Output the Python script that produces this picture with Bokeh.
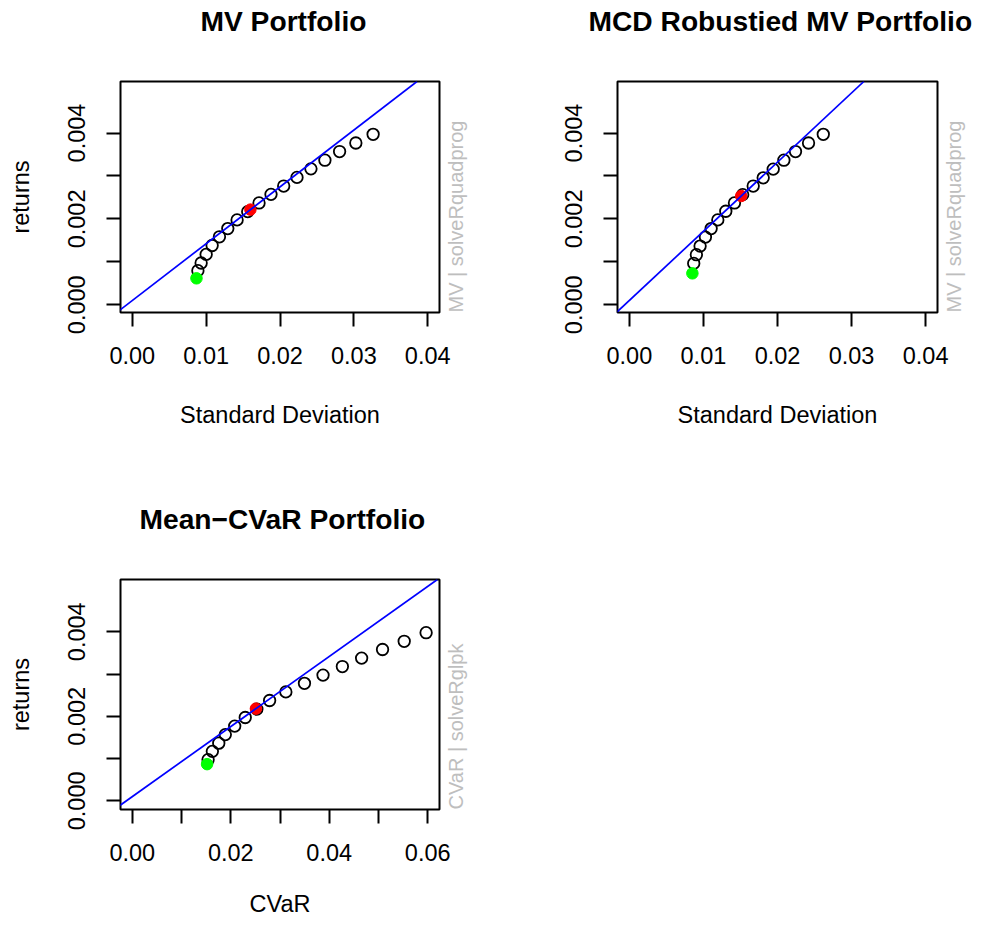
import math
from bokeh.plotting import figure
from bokeh.models import Range1d, FixedTicker, Slope, PrintfTickFormatter, LinearAxis
from bokeh.layouts import column, row
from bokeh.embed import file_html
from bokeh.resources import INLINE

# ---------------- data ----------------
# Panel 1: MV Portfolio (standard deviation vs returns)
mv_sd = [0.00888, 0.00932, 0.01000, 0.01081, 0.01180, 0.01293, 0.01419, 0.01563,
         0.01716, 0.01878, 0.02050, 0.02230, 0.02419, 0.02608, 0.02807, 0.03027, 0.03261]
mv_ret = [0.000795, 0.000973, 0.001173, 0.001381, 0.001583, 0.001775, 0.001977, 0.002169,
          0.002371, 0.002572, 0.002765, 0.002966, 0.003166, 0.003367, 0.003569, 0.003768, 0.003970]
mv_minvar = ([0.00869], [0.000616])
mv_tangency = ([0.01599], [0.002216])
mv_line = (0.0001, 0.1323)          # intercept, slope of tangency line

# Panel 2: MCD robustified MV Portfolio
mcd_sd = [0.00869, 0.00905, 0.00955, 0.01027, 0.01104, 0.01194, 0.01302, 0.01419,
          0.01530, 0.01672, 0.01807, 0.01942, 0.02086, 0.02243, 0.02419, 0.02618]
mcd_ret = [0.000964, 0.001166, 0.001367, 0.001576, 0.001775, 0.001977, 0.002178, 0.002371,
           0.002565, 0.002765, 0.002957, 0.003159, 0.003367, 0.003569, 0.003768, 0.003970]
mcd_minvar = ([0.00851], [0.000732])
mcd_tangency = ([0.01510], [0.002533])
mcd_line = (0.0001, 0.1611)

# Panel 3: Mean-CVaR Portfolio
cvar_risk = [0.01539, 0.01626, 0.01756, 0.01889, 0.02080, 0.02294, 0.02530, 0.02789,
             0.03119, 0.03497, 0.03874, 0.04267, 0.04658, 0.05083, 0.05523, 0.05968]
cvar_ret = [0.000975, 0.001171, 0.001364, 0.001567, 0.001768, 0.001971, 0.002170, 0.002374,
            0.002577, 0.002780, 0.002974, 0.003177, 0.003377, 0.003580, 0.003774, 0.003977]
cvar_minrisk = ([0.01519], [0.000868])
cvar_tangency = ([0.02511], [0.002181])
cvar_line = (0.0001, 0.08288)

sd_ticks = [0.0, 0.01, 0.02, 0.03, 0.04]
cvar_ticks = [0.0, 0.01, 0.02, 0.03, 0.04, 0.05, 0.06]
ret_ticks = [0.0, 0.001, 0.002, 0.003, 0.004]
ret_hidden = [0.001, 0.003]
cvar_hidden = [0.01, 0.03, 0.05]

FONT = "Liberation Sans"
FS = "23.5px"
GREY = "#bebebe"


def side_text_axis(p, text):
    ax = LinearAxis(axis_line_color=None, major_tick_line_color=None,
                    minor_tick_line_color=None, major_tick_out=0, major_tick_in=0,
                    major_label_text_font_size="0px")
    ax.ticker = FixedTicker(ticks=[], minor_ticks=[])
    ax.axis_label = text
    ax.axis_label_text_font = FONT
    ax.axis_label_text_font_size = "20px"
    ax.axis_label_text_font_style = "normal"
    ax.axis_label_text_color = GREY
    ax.axis_label_standoff = 16
    props = ax.properties()
    if "axis_label_orientation" in props:
        ax.axis_label_orientation = math.pi / 2
    if "axis_label_align" in props:
        ax.axis_label_align = "start"
    p.add_layout(ax, "right")


def title_spacer(p):
    # an empty, invisible axis between the frame and the title, to hold the gap
    ax = LinearAxis(axis_line_color=None, major_tick_line_color=None,
                    minor_tick_line_color=None, major_tick_out=0, major_tick_in=0,
                    major_label_text_font_size="0px")
    ax.ticker = FixedTicker(ticks=[], minor_ticks=[])
    ax.axis_label = " "
    ax.axis_label_text_font = FONT
    ax.axis_label_text_font_size = "20px"
    ax.axis_label_text_alpha = 0
    ax.axis_label_standoff = 18
    p.add_layout(ax, "above")


def panel(width, height, xr, yr, bl, br, bt, bb, title, title_off, xlab, ylab, side_text,
          xs, ys, minpt, tanpt, line, xticks, xhidden, xlab_standoff):
    p = figure(width=width, height=height, x_range=Range1d(*xr), y_range=Range1d(*yr),
               output_backend="svg", toolbar_location=None, title=title,
               min_border_left=bl, min_border_right=br, min_border_top=bt, min_border_bottom=bb)
    p.grid.visible = False
    p.outline_line_color = "black"
    p.outline_line_width = 2
    p.background_fill_color = "white"
    p.border_fill_color = "white"

    p.title.align = "left"
    p.title.offset = title_off
    p.title.standoff = 4
    p.title.vertical_align = "bottom"
    p.title.text_font = FONT
    p.title.text_font_size = "28.2px"
    p.title.text_font_style = "bold"
    p.title.text_color = "black"

    xa = p.below[0]
    ya = p.left[0]
    for ax, ticks, fmt, hidden in ((xa, xticks, "%.2f", xhidden),
                                   (ya, ret_ticks, "%.3f", ret_hidden)):
        ax.ticker = FixedTicker(ticks=ticks, minor_ticks=[])
        ax.formatter = PrintfTickFormatter(format=fmt)
        ax.major_label_overrides = {h: "" for h in hidden}
        ax.axis_line_color = None
        ax.major_tick_out = 14
        ax.major_tick_in = 0
        ax.major_tick_line_width = 2
        ax.major_tick_line_color = "black"
        ax.minor_tick_line_color = None
        ax.major_label_text_font = FONT
        ax.major_label_text_font_size = FS
        ax.major_label_text_color = "black"
        ax.axis_label_text_font = FONT
        ax.axis_label_text_font_size = FS
        ax.axis_label_text_font_style = "normal"
        ax.axis_label_text_color = "black"
    xa.major_label_standoff = 20
    ya.major_label_standoff = 21
    ya.major_label_orientation = "vertical"
    xa.axis_label = xlab
    xa.axis_label_standoff = xlab_standoff
    if ylab:
        ya.axis_label = ylab
        ya.axis_label_standoff = 32

    title_spacer(p)
    side_text_axis(p, side_text)

    p.scatter(xs, ys, marker="circle", size=11.5, fill_color=None,
              line_color="black", line_width=1.8)
    p.scatter(minpt[0], minpt[1], marker="circle", size=11.5, fill_color="#00ff00",
              line_color="#00ff00", line_width=1)
    p.scatter(tanpt[0], tanpt[1], marker="circle", size=11.5, fill_color="#ff0000",
              line_color="#ff0000", line_width=1)
    p.add_layout(Slope(gradient=line[1], y_intercept=line[0],
                       line_color="#0000ff", line_width=1.7))
    return p


p1 = panel(498, 498, (-0.0016, 0.0416), (-0.00018, 0.00520), 120, 59, 80, 186,
           "MV Portfolio", 80, "Standard Deviation", "returns", "MV | solveRquadprog",
           mv_sd, mv_ret, mv_minvar, mv_tangency, mv_line, sd_ticks, [], 35)
p2 = panel(482, 498, (-0.0016, 0.0416), (-0.00018, 0.00520), 119, 43, 80, 186,
           "MCD Robustied MV Portfolio", -29, "Standard Deviation", None, "MV | solveRquadprog",
           mcd_sd, mcd_ret, mcd_minvar, mcd_tangency, mcd_line, sd_ticks, [], 35)
p3 = panel(498, 422, (-0.0024, 0.0624), (-0.000205, 0.005236), 120, 59, 78, 111,
           "Mean\u2212CVaR Portfolio", 19, "CVaR", "returns", "CVaR | solveRglpk",
           cvar_risk, cvar_ret, cvar_minrisk, cvar_tangency, cvar_line, cvar_ticks,
           cvar_hidden, 27)

layout = column(row(p1, p2, spacing=0), p3, spacing=0)
open("out.html", "w").write(file_html(layout, INLINE))
